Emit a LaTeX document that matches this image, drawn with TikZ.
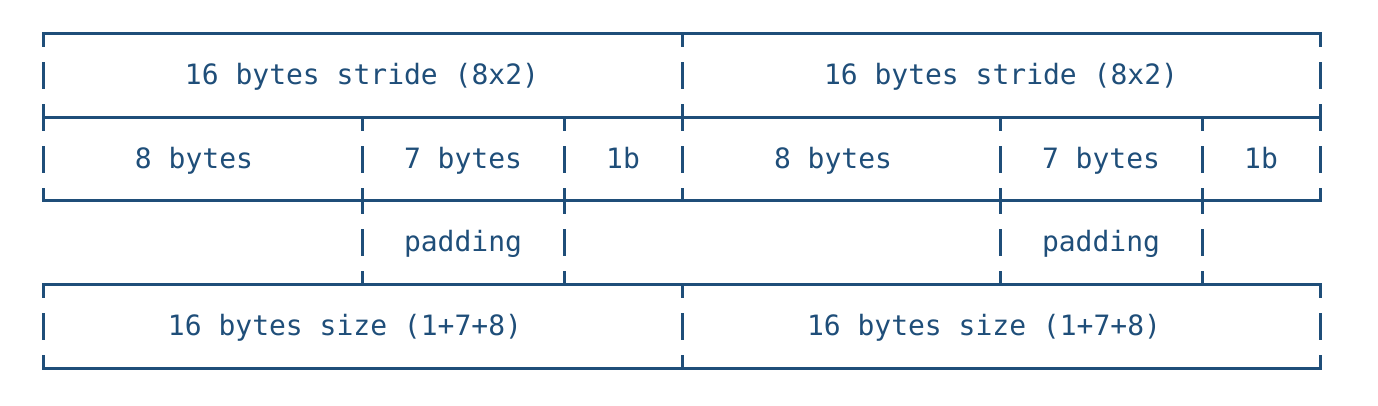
\documentclass[tikz,border=0pt]{standalone}
\usepackage{fontspec}
\newfontfamily\asciifont{DejaVu Sans Mono}
\definecolor{asciiblue}{RGB}{31,78,121}

\begin{document}
\begin{tikzpicture}[x=0.5pt, y=-0.5pt,
    every node/.style = {text=asciiblue, font=\asciifont\fontsize{14pt}{17pt}\selectfont,
      anchor=base, inner sep=0pt},
    boxline/.style = {draw=asciiblue, line width=1.5pt, line cap=rect}]
  \useasboundingbox (0,0) rectangle (1378,406);
  % horizontal rules
  \foreach \y in {34,118,201,285,369}
    \draw[boxline] (43,\y) -- (1320,\y);
  % bars of the stride and size rows
  \foreach \x in {43,682,1320}
    \draw[boxline] (\x,34) -- (\x,46) (\x,64) -- (\x,88) (\x,106) -- (\x,130)
      (\x,148) -- (\x,172) (\x,190) -- (\x,201)
      (\x,285) -- (\x,297) (\x,315) -- (\x,339) (\x,357) -- (\x,369);
  % bars of the field and padding rows
  \foreach \x in {362,564,1000,1202}
    \draw[boxline] (\x,118) -- (\x,130) (\x,148) -- (\x,172) (\x,190) -- (\x,213)
      (\x,231) -- (\x,255) (\x,273) -- (\x,285);
  \node (strideL) at (362,85) {16 bytes stride (8x2)};
  \node (strideR) at (1001,85) {16 bytes stride (8x2)};
  \node (eightL) at (194,169) {8 bytes};
  \node (sevenL) at (463,169) {7 bytes};
  \node (oneL) at (623,169) {1b};
  \node (eightR) at (833,169) {8 bytes};
  \node (sevenR) at (1101,169) {7 bytes};
  \node (oneR) at (1261,169) {1b};
  \node (padL) at (463,252) {padding};
  \node (padR) at (1101,252) {padding};
  \node (sizeL) at (345,336) {16 bytes size (1+7+8)};
  \node (sizeR) at (984,336) {16 bytes size (1+7+8)};
\end{tikzpicture}
\end{document}
